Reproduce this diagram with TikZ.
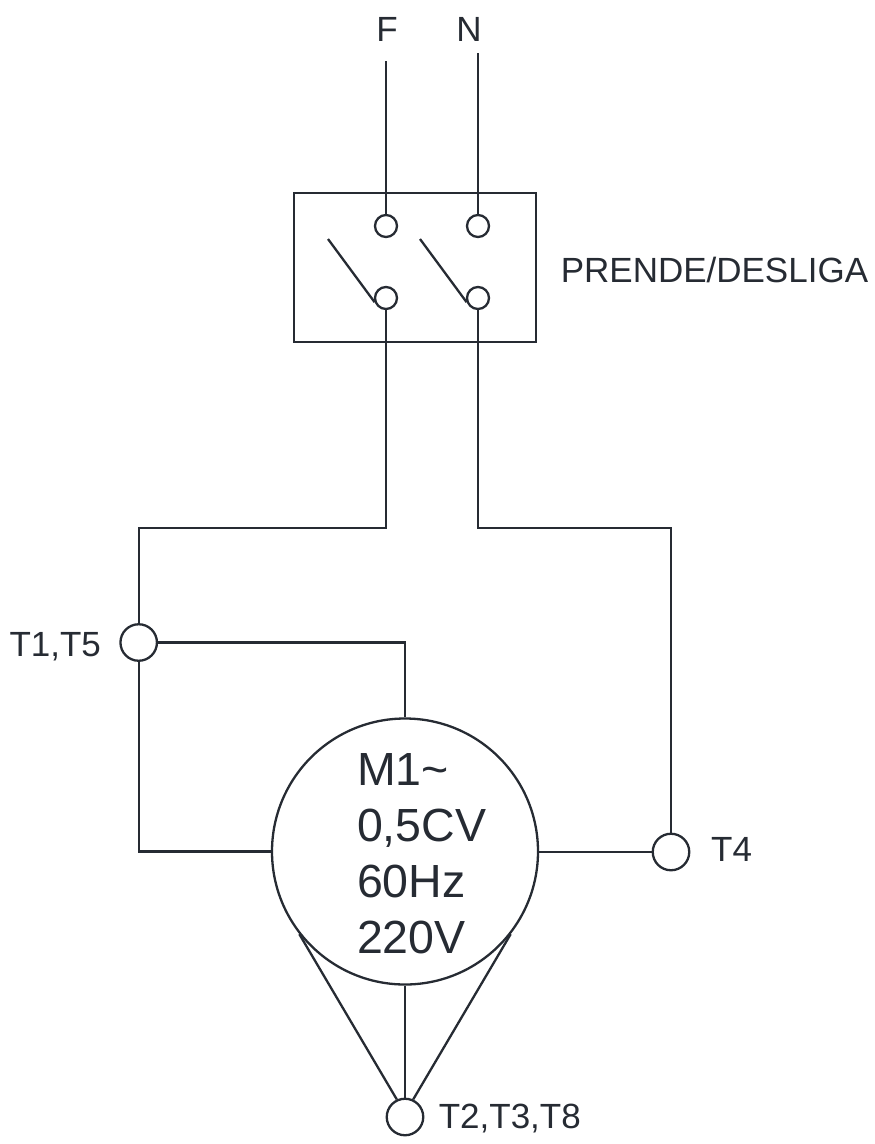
\documentclass[tikz,border=0pt]{standalone}
\usepackage{fontspec}
\setmainfont{Liberation Sans}
\definecolor{ink}{HTML}{262B33}
\tikzset{
  wire/.style={draw=ink,line width=2.3pt},
  terminal/.style={circle,draw=ink,line width=2.3pt,inner sep=0pt,minimum size=22pt},
  bigterminal/.style={circle,draw=ink,line width=2.3pt,inner sep=0pt,minimum size=36.5pt},
  lbl/.style={text=ink,inner sep=0pt,font=\fontsize{35pt}{40pt}\selectfont},
}
\begin{document}
\begin{tikzpicture}[x=1pt,y=-1pt]
\useasboundingbox (0,0) rectangle (875,1144);
% switch box
\node[draw=ink,line width=2.3pt,minimum width=242pt,minimum height=149pt,inner sep=0pt] (box) at (415,267.5) {};
\node[terminal] (a1) at (386,226) {};
\node[terminal] (a2) at (478,226) {};
\node[terminal] (b1) at (386,298) {};
\node[terminal] (b2) at (478,298) {};
\coordinate (f0) at (386,61);
\coordinate (n0) at (478,53);
\coordinate (bl1) at (328,239);
\coordinate (bl2) at (420,239);
% motor and terminals
\node[circle,draw=ink,line width=2.3pt,inner sep=0pt,minimum size=266pt] (motor) at (405,851.5) {};
\node[bigterminal] (t15) at (138.7,642.5) {};
\node[bigterminal] (t4) at (671,852) {};
\node[bigterminal] (t238) at (405,1117) {};
\coordinate (jl) at (386,528);
\coordinate (jr) at (478,528);
% texts
\node[lbl,anchor=base] (lf) at (387,41) {F};
\node[lbl,anchor=base] (ln) at (469,41) {N};
\node[lbl,anchor=base west] (lsw) at (560.6,282) {PRENDE/DESLIGA};
\node[lbl,anchor=base west] (lt15) at (9.3,656) {T1,T5};
\node[lbl,anchor=base west] (lt4) at (711,861) {T4};
\node[lbl,anchor=base west] (lt238) at (438.6,1128.3) {T2,T3,T8};
\node[text=ink,inner sep=0pt,align=left,anchor=base west,font=\fontsize{46.5pt}{55.7pt}\selectfont] (lm) at (356.8,953) {M1\textasciitilde\\0,5CV\\60Hz\\220V};
% connectors
\draw[wire] (f0) -- (a1);
\draw[wire] (n0) -- (a2);
\draw[wire] (bl1) -- (b1.200);
\draw[wire] (bl2) -- (b2.200);
\draw[wire] (b1) -- (jl) -| (t15);
\draw[wire] (b2) -- (jr) -| (t4);
\draw[wire] (t15) -| (motor.north);
\draw[wire] (t15) |- (motor.west);
\draw[wire] (t4) -- (t4 -| motor.east);
\draw[wire] (motor.218) -- (t238.115);
\draw[wire] (motor.south) -- (t238);
\draw[wire] (motor.322) -- (t238.65);
\end{tikzpicture}
\end{document}
